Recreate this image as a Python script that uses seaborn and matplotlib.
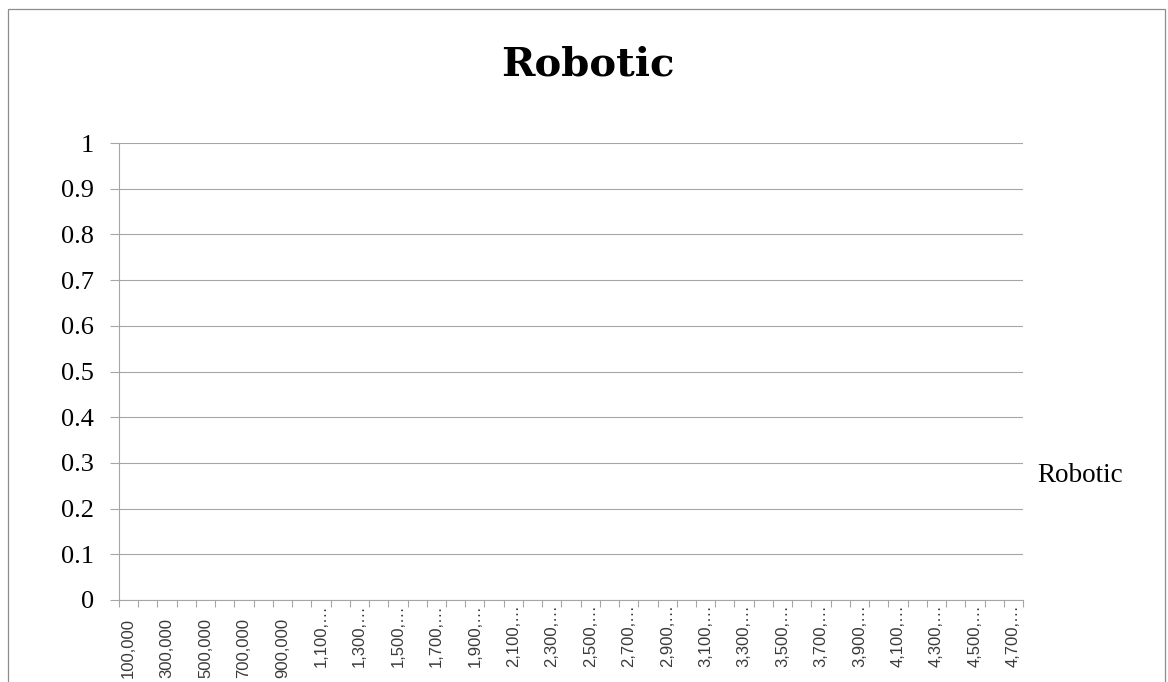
import numpy as np
import pandas as pd
import matplotlib
matplotlib.use("Agg")
import matplotlib.pyplot as plt
from matplotlib.patches import Rectangle
from matplotlib.ticker import FixedLocator, NullFormatter
import seaborn as sns

# Order-size categories on the x axis (one slot per 100,000 step)
amounts = [
    100000, 200000, 300000, 400000, 500000, 600000, 700000, 800000, 900000,
    1000000, 1100000, 1200000, 1300000, 1400000, 1500000, 1600000, 1700000,
    1800000, 1900000, 2000000, 2100000, 2200000, 2300000, 2400000, 2500000,
    2600000, 2700000, 2800000, 2900000, 3000000, 3100000, 3200000, 3300000,
    3400000, 3500000, 3600000, 3700000, 3800000, 3900000, 4000000, 4100000,
    4200000, 4300000, 4400000, 4500000, 4600000, 4700000,
]

# The "Robotic" series has no recorded values
nan = float("nan")
robotic = [
    nan, nan, nan, nan, nan, nan, nan, nan, nan, nan, nan, nan,
    nan, nan, nan, nan, nan, nan, nan, nan, nan, nan, nan, nan,
    nan, nan, nan, nan, nan, nan, nan, nan, nan, nan, nan, nan,
    nan, nan, nan, nan, nan, nan, nan, nan, nan, nan, nan,
]

# Every second category is labelled; long labels are clipped with an ellipsis
x_labels = [
    "100,000", "300,000", "500,000", "700,000", "900,000",
    "1,100,…", "1,300,…", "1,500,…", "1,700,…", "1,900,…",
    "2,100,…", "2,300,…", "2,500,…", "2,700,…", "2,900,…",
    "3,100,…", "3,300,…", "3,500,…", "3,700,…", "3,900,…",
    "4,100,…", "4,300,…", "4,500,…", "4,700,…",
]
y_ticks = [0, 0.1, 0.2, 0.3, 0.4, 0.5, 0.6, 0.7, 0.8, 0.9, 1]
y_labels = ["0", "0.1", "0.2", "0.3", "0.4", "0.5", "0.6", "0.7", "0.8", "0.9", "1"]

sns.set_theme(style="white")
plt.rcParams["font.family"] = ["Liberation Serif", "DejaVu Serif"]

GRID = "#a6a6a6"

df = pd.DataFrame({"slot": np.arange(len(amounts)), "amount": amounts, "Robotic": robotic})

fig = plt.figure(figsize=(11.68, 6.82), dpi=100)
fig.patch.set_facecolor("white")
ax = fig.add_axes([119 / 1168, 1 - 600 / 682, (1023 - 119) / 1168, (600 - 143) / 682])

sns.lineplot(data=df, x="slot", y="Robotic", ax=ax, color="#4f81bd",
             linewidth=2.2, label="Robotic", legend=False)

n = len(amounts)
ax.set_xlim(-0.5, n - 0.5)
ax.set_ylim(0, 1)

# Horizontal gridlines and the y axis
ax.set_yticks(y_ticks)
ax.set_yticklabels(y_labels, fontsize=19, color="black",
                   family=["Liberation Serif", "DejaVu Serif"])
ax.yaxis.grid(True, color=GRID, linewidth=0.8)
ax.xaxis.grid(False)
ax.tick_params(axis="y", length=6.5, width=0.8, color=GRID, pad=11.5, left=True)

# Tick marks sit between categories; labels sit on every other category centre
ax.xaxis.set_major_locator(FixedLocator(np.arange(-0.5, n, 1.0)))
ax.xaxis.set_major_formatter(NullFormatter())
label_pos = [df["slot"][i] for i in range(0, n, 2)]
ax.set_xticks(label_pos, minor=True)
ax.set_xticklabels(x_labels, minor=True, rotation=90, fontsize=12,
                   color="#3a3a3a", family=["Liberation Sans", "DejaVu Sans"])
ax.tick_params(axis="x", which="major", length=5, width=0.8, color=GRID, bottom=True)
ax.tick_params(axis="x", which="minor", length=0, bottom=True)
for tick, text in zip(ax.xaxis.get_minor_ticks(), x_labels):
    tick.set_pad(2.8 if text.endswith("…") else 13.0)

ax.set_xlabel("")
ax.set_ylabel("")

for side in ("top", "right"):
    ax.spines[side].set_visible(False)
for side in ("left", "bottom"):
    ax.spines[side].set_color(GRID)
    ax.spines[side].set_linewidth(0.8)

# Chart title
fig.text(0.5035, 1 - 75 / 682, "Robotic", ha="center", va="baseline",
         fontsize=29, fontweight="bold", family=["DejaVu Serif"], color="black")

# Legend on the right with only the series name shown
handles, _ = ax.get_legend_handles_labels()
leg = fig.legend(handles, ["Robotic"], loc="center left",
                 bbox_to_anchor=(1037 / 1168, 1 - 476 / 682), frameon=False,
                 handlelength=0, handletextpad=0, borderpad=0, borderaxespad=0,
                 labelcolor="black",
                 prop={"family": ["Liberation Serif"], "size": 19.5})
for h in leg.legend_handles:
    h.set_visible(False)

# Chart-area border
fig.patches.append(Rectangle((8 / 1168, -0.1), (1165 - 8) / 1168, 1.1 - 9 / 682,
                             transform=fig.transFigure, fill=False,
                             edgecolor="#8c8c8c", linewidth=0.9))

fig.savefig("out.png", dpi=100, facecolor="white")
